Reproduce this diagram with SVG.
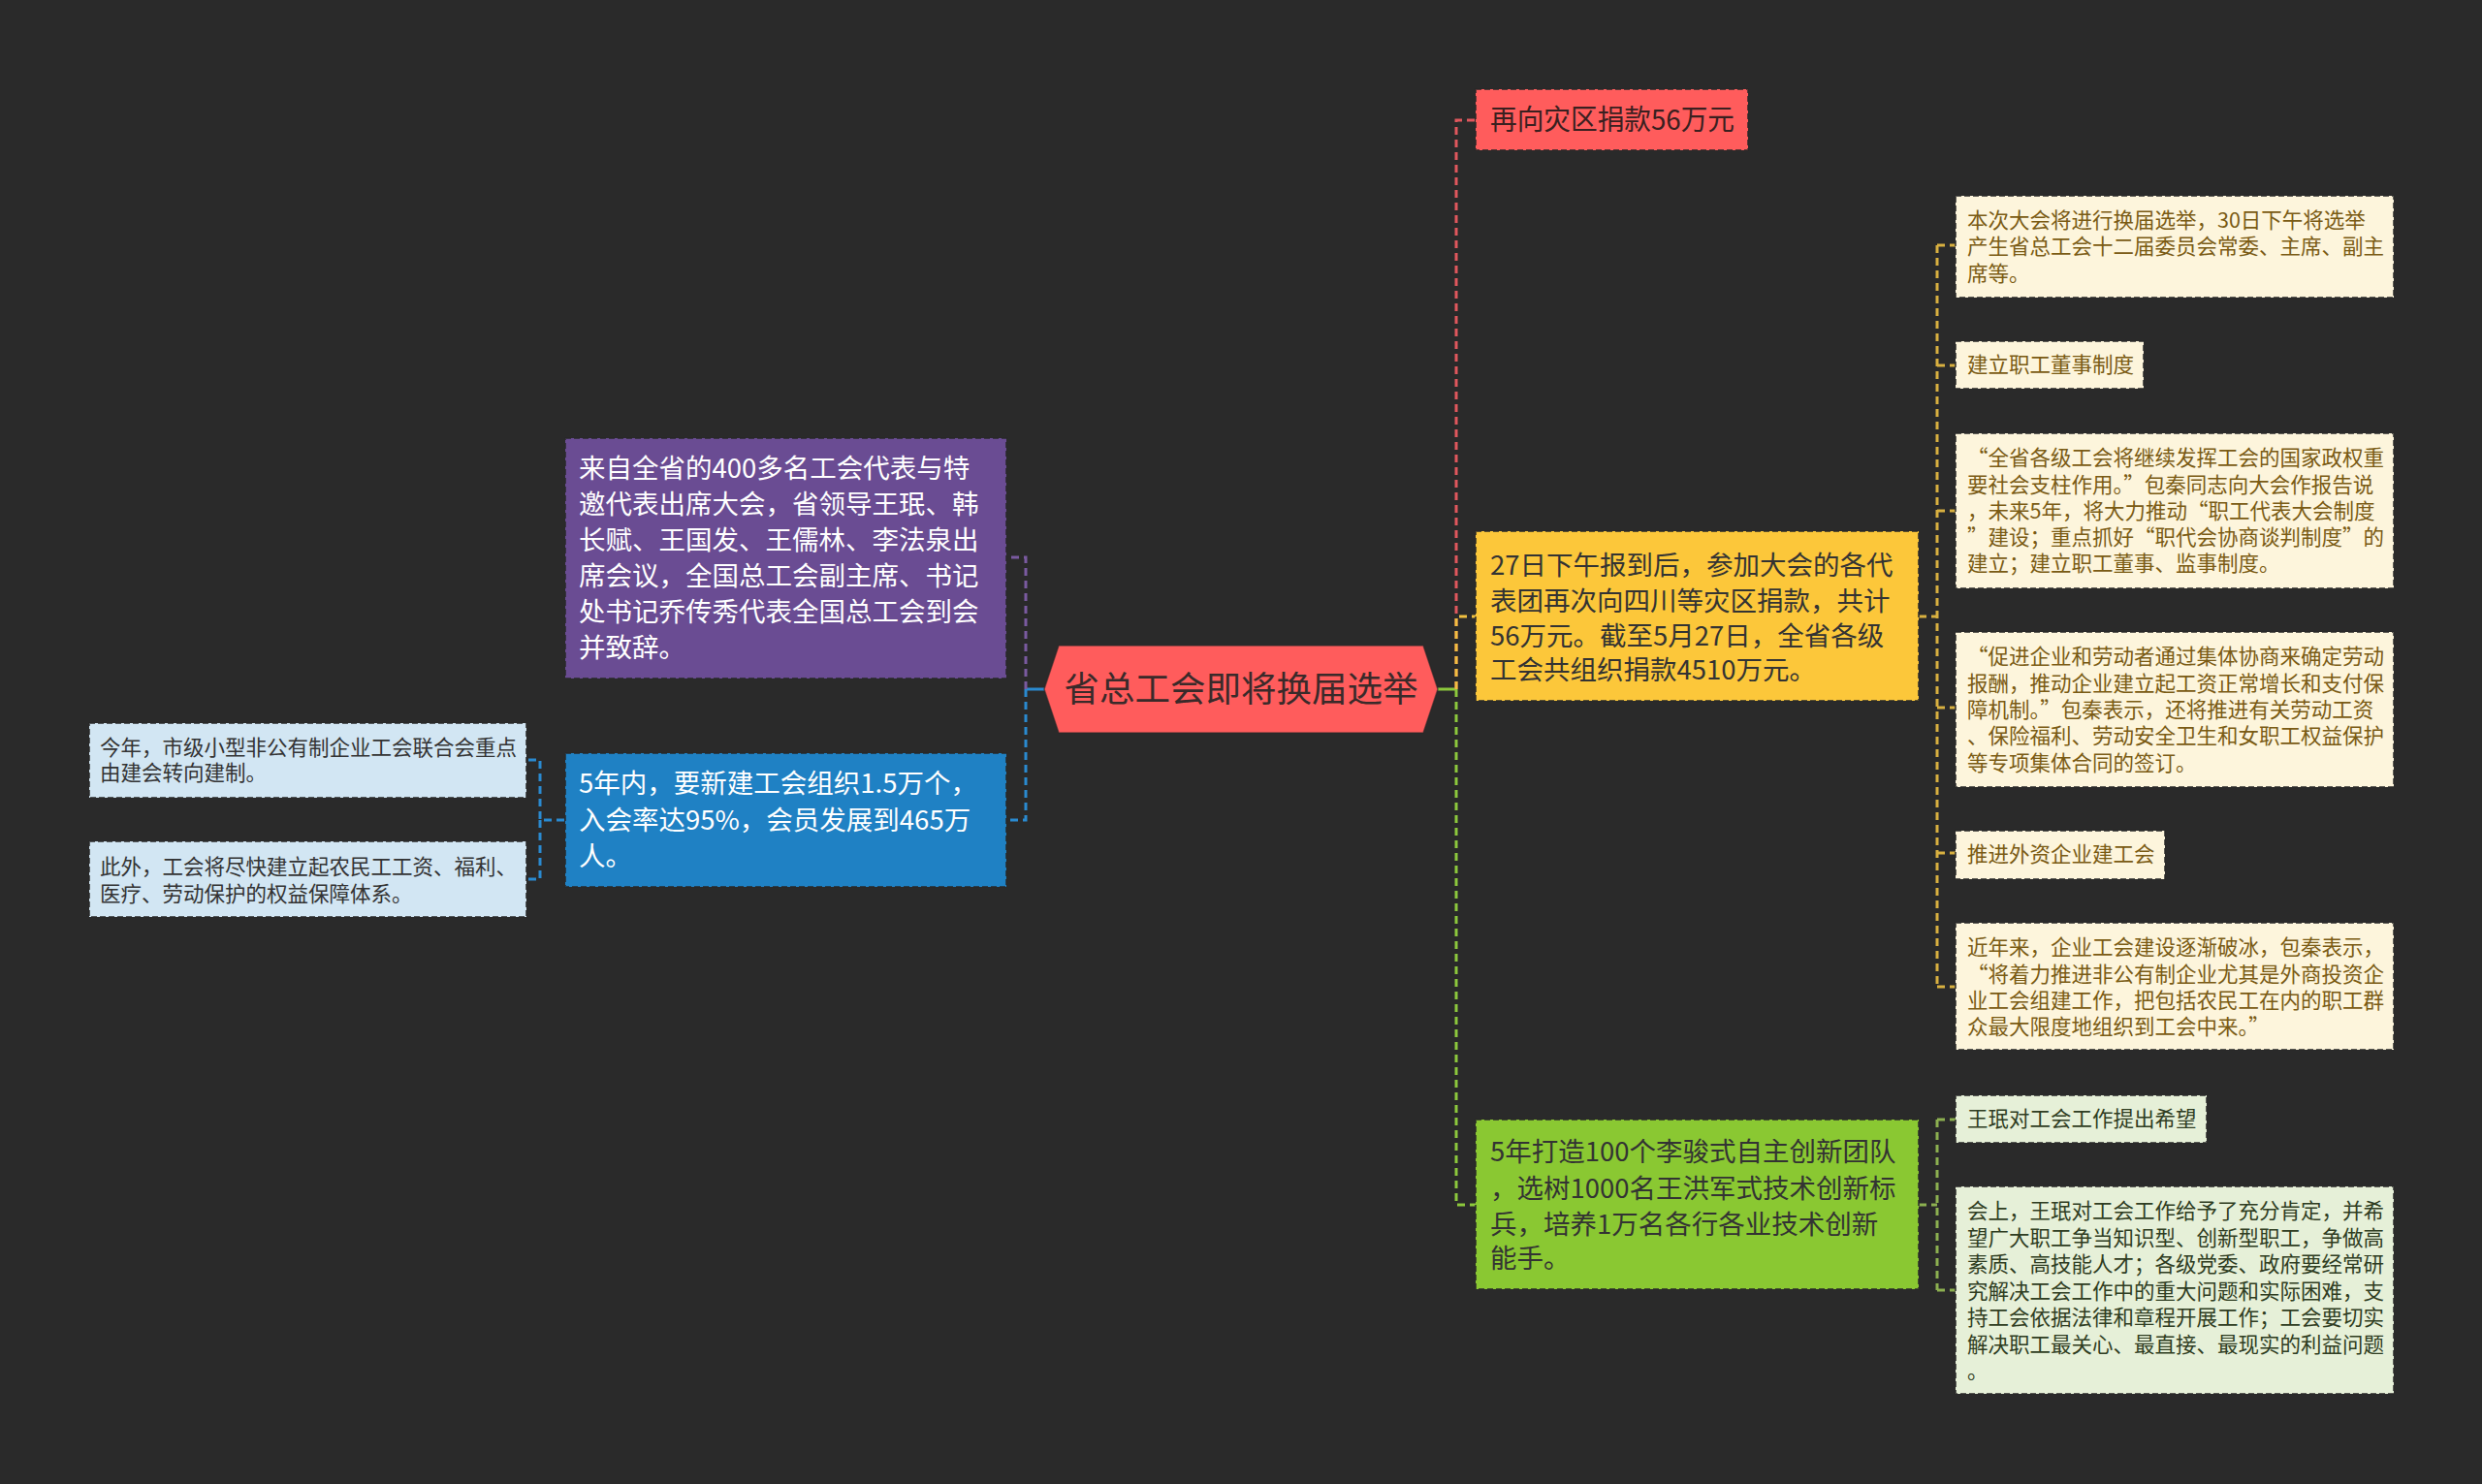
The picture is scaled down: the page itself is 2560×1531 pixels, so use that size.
<svg xmlns="http://www.w3.org/2000/svg" width="2560" height="1531" viewBox="0 0 2560 1531">
<style>
text{font-family:"Noto Sans CJK SC","Noto Sans",sans-serif;dominant-baseline:central}
.box{stroke:rgba(40,40,40,0.75);stroke-width:2;stroke-dasharray:6 3}
.c{fill:none;stroke-width:3;stroke-dasharray:8 5}
.s{fill:none;stroke-width:3}
.f27{font-size:27.5px}
.f21{font-size:21.5px}
.w{fill:#ffffff}
.d{fill:#333333}
.cr{fill:#7a5b14}
.lg{fill:#2f3d22}
</style>
<rect width="2560" height="1531" fill="#2a2a2a"/>
<g id="connectors">
<path class="s" stroke="#2a8ad0" d="M1077 711H1058"/>
<path class="c" stroke="#7a5aa0" d="M1058 711V575H1038"/>
<path class="c" stroke="#2a8ad0" d="M1058 711V846H1038"/>
<path class="c" stroke="#2a8ad0" d="M582 846H557V784H543M557 846V907H543"/>
<path class="s" stroke="#8cc83c" d="M1483 711H1502"/>
<path class="c" stroke="#e0575d" d="M1502 711V124H1522"/>
<path class="c" stroke="#f0c040" d="M1502 711V636H1522"/>
<path class="c" stroke="#8cc83c" d="M1502 711V1243H1522"/>
<path class="c" stroke="#d8b040" d="M1979 636H1998M1998 253V1018M1998 253H2017M1998 377H2017M1998 527H2017M1998 730H2017M1998 880H2017M1998 1018H2017"/>
<path class="c" stroke="#8cb050" d="M1979 1243H1998M1998 1155V1331M1998 1155H2017M1998 1331H2017"/>
</g>
<g id="root">
<polygon points="1077,711 1092,666 1468,666 1483,711 1468,756 1092,756" fill="#ff5c5c" stroke="rgba(40,40,40,0.6)" stroke-width="1.5"/>
<text x="1280" y="708" text-anchor="middle" font-size="36.5" fill="#3a2a2a">省总工会即将换届选举</text>
</g>
<g id="n-purple">
<rect class="box" x="583" y="452" width="455" height="248" fill="#6a4c93"/>
<text class="f27 w" x="597" y="481">来自全省的400多名工会代表与特</text>
<text class="f27 w" x="597" y="518">邀代表出席大会，省领导王珉、韩</text>
<text class="f27 w" x="597" y="555">长赋、王国发、王儒林、李法泉出</text>
<text class="f27 w" x="597" y="592">席会议，全国总工会副主席、书记</text>
<text class="f27 w" x="597" y="629">处书记乔传秀代表全国总工会到会</text>
<text class="f27 w" x="597" y="666">并致辞。</text>
</g>
<g id="n-blue">
<rect class="box" x="583" y="777" width="455" height="138" fill="#1f81c4"/>
<text class="f27 w" x="597" y="806">5年内，要新建工会组织1.5万个，</text>
<text class="f27 w" x="597" y="844">入会率达95%，会员发展到465万</text>
<text class="f27 w" x="597" y="881">人。</text>
</g>
<g id="n-lb1">
<rect class="box" x="92" y="746" width="451" height="77" fill="#d2e6f3"/>
<text class="f21 d" x="103" y="769">今年，市级小型非公有制企业工会联合会重点</text>
<text class="f21 d" x="103" y="795">由建会转向建制。</text>
</g>
<g id="n-lb2">
<rect class="box" x="92" y="868" width="451" height="78" fill="#d2e6f3"/>
<text class="f21 d" x="103" y="892">此外，工会将尽快建立起农民工工资、福利、</text>
<text class="f21 d" x="103" y="920">医疗、劳动保护的权益保障体系。</text>
</g>
<g id="n-red">
<rect class="box" x="1522" y="92" width="281" height="63" fill="#ff5c5c"/>
<text x="1537" y="121" font-size="29" textLength="252" lengthAdjust="spacingAndGlyphs" fill="#3a2020">再向灾区捐款56万元</text>
</g>
<g id="n-yellow">
<rect class="box" x="1522" y="548" width="457" height="175" fill="#fcc73a"/>
<text class="f27 d" x="1537" y="581">27日下午报到后，参加大会的各代</text>
<text class="f27 d" x="1537" y="618">表团再次向四川等灾区捐款，共计</text>
<text class="f27 d" x="1537" y="654">56万元。截至5月27日，全省各级</text>
<text class="f27 d" x="1537" y="689">工会共组织捐款4510万元。</text>
</g>
<g id="n-green">
<rect class="box" x="1522" y="1155" width="457" height="175" fill="#8ac832"/>
<text class="f27 d" x="1537" y="1186">5年打造100个李骏式自主创新团队</text>
<text class="f27 d" x="1537" y="1224">，选树1000名王洪军式技术创新标</text>
<text class="f27 d" x="1537" y="1261">兵，培养1万名各行各业技术创新</text>
<text class="f27 d" x="1537" y="1296">能手。</text>
</g>
<g id="n-a">
<rect class="box" x="2017" y="202" width="452" height="105" fill="#fdf5dc"/>
<text class="f21 cr" x="2029" y="225">本次大会将进行换届选举，30日下午将选举</text>
<text class="f21 cr" x="2029" y="252">产生省总工会十二届委员会常委、主席、副主</text>
<text class="f21 cr" x="2029" y="280">席等。</text>
</g>
<g id="n-b">
<rect class="box" x="2017" y="352" width="194" height="49" fill="#fdf5dc"/>
<text class="f21 cr" x="2029" y="374">建立职工董事制度</text>
</g>
<g id="n-c">
<rect class="box" x="2017" y="447" width="452" height="160" fill="#fdf5dc"/>
<text class="f21 cr" x="2029" y="470">“全省各级工会将继续发挥工会的国家政权重</text>
<text class="f21 cr" x="2029" y="498">要社会支柱作用。”包秦同志向大会作报告说</text>
<text class="f21 cr" x="2029" y="525">，未来5年，将大力推动“职工代表大会制度</text>
<text class="f21 cr" x="2029" y="552">”建设；重点抓好“职代会协商谈判制度”的</text>
<text class="f21 cr" x="2029" y="579">建立；建立职工董事、监事制度。</text>
</g>
<g id="n-d">
<rect class="box" x="2017" y="652" width="452" height="160" fill="#fdf5dc"/>
<text class="f21 cr" x="2029" y="675">“促进企业和劳动者通过集体协商来确定劳动</text>
<text class="f21 cr" x="2029" y="703">报酬，推动企业建立起工资正常增长和支付保</text>
<text class="f21 cr" x="2029" y="730">障机制。”包秦表示，还将推进有关劳动工资</text>
<text class="f21 cr" x="2029" y="757">、保险福利、劳动安全卫生和女职工权益保护</text>
<text class="f21 cr" x="2029" y="785">等专项集体合同的签订。</text>
</g>
<g id="n-e">
<rect class="box" x="2017" y="857" width="216" height="50" fill="#fdf5dc"/>
<text class="f21 cr" x="2029" y="879">推进外资企业建工会</text>
</g>
<g id="n-f">
<rect class="box" x="2017" y="952" width="452" height="131" fill="#fdf5dc"/>
<text class="f21 cr" x="2029" y="975">近年来，企业工会建设逐渐破冰，包秦表示，</text>
<text class="f21 cr" x="2029" y="1003">“将着力推进非公有制企业尤其是外商投资企</text>
<text class="f21 cr" x="2029" y="1030">业工会组建工作，把包括农民工在内的职工群</text>
<text class="f21 cr" x="2029" y="1057">众最大限度地组织到工会中来。”</text>
</g>
<g id="n-g">
<rect class="box" x="2017" y="1130" width="259" height="49" fill="#e6f0d8"/>
<text class="f21 lg" x="2029" y="1152">王珉对工会工作提出希望</text>
</g>
<g id="n-h">
<rect class="box" x="2017" y="1224" width="452" height="214" fill="#e6f0d8"/>
<text class="f21 lg" x="2029" y="1247">会上，王珉对工会工作给予了充分肯定，并希</text>
<text class="f21 lg" x="2029" y="1275">望广大职工争当知识型、创新型职工，争做高</text>
<text class="f21 lg" x="2029" y="1302">素质、高技能人才；各级党委、政府要经常研</text>
<text class="f21 lg" x="2029" y="1330">究解决工会工作中的重大问题和实际困难，支</text>
<text class="f21 lg" x="2029" y="1357">持工会依据法律和章程开展工作；工会要切实</text>
<text class="f21 lg" x="2029" y="1385">解决职工最关心、最直接、最现实的利益问题</text>
<text class="f21 lg" x="2029" y="1412">。</text>
</g>
</svg>
